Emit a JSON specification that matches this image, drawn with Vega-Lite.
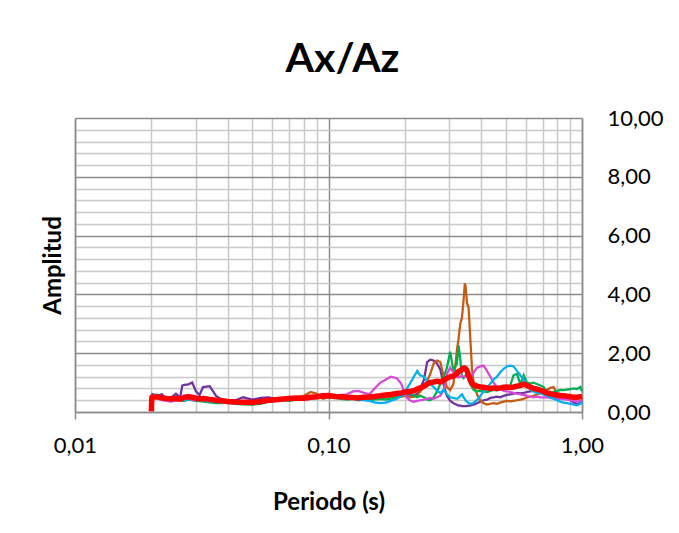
{
  "$schema": "https://vega.github.io/schema/vega-lite/v6.json",
  "width": 507,
  "height": 294,
  "autosize": {"type": "none"},
  "padding": {"left": 75, "top": 118, "right": 97, "bottom": 121},
  "background": "white",
  "config": {"view": {"stroke": null}, "font": "Lato"},
  "title": {"text": "Ax/Az", "fontSize": 41, "fontWeight": "bold", "font": "Lato", "color": "black", "anchor": "middle", "frame": "group", "dx": 14, "dy": 52, "baseline": "alphabetic", "offset": 46},
  "data": {"values": [
    {"p":0.020,"S1":0.62,"S2":0.50,"S3":0.58,"S4":0.45,"S5":0.55,"R":0.02},
    {"p":0.0201,"S1":0.62,"S2":0.50,"S3":0.58,"S4":0.45,"S5":0.55,"R":0.50},
    {"p":0.021,"S1":0.55,"S2":0.52,"S3":0.50,"S4":0.48,"S5":0.60,"R":0.52},
    {"p":0.022,"S1":0.60,"S2":0.45,"S3":0.47,"S4":0.40,"S5":0.50,"R":0.48},
    {"p":0.023,"S1":0.45,"S2":0.42,"S3":0.50,"S4":0.38,"S5":0.46,"R":0.46},
    {"p":0.024,"S1":0.50,"S2":0.48,"S3":0.45,"S4":0.35,"S5":0.45,"R":0.45},
    {"p":0.025,"S1":0.62,"S2":0.44,"S3":0.46,"S4":0.40,"S5":0.42,"R":0.46},
    {"p":0.026,"S1":0.50,"S2":0.42,"S3":0.40,"S4":0.38,"S5":0.44,"R":0.44},
    {"p":0.0265,"S1":0.90,"S2":0.44,"S3":0.38,"S4":0.40,"S5":0.42,"R":0.47},
    {"p":0.027,"S1":0.92,"S2":0.45,"S3":0.38,"S4":0.42,"S5":0.40,"R":0.50},
    {"p":0.028,"S1":0.94,"S2":0.48,"S3":0.42,"S4":0.45,"S5":0.43,"R":0.52},
    {"p":0.029,"S1":1.00,"S2":0.45,"S3":0.40,"S4":0.40,"S5":0.45,"R":0.50},
    {"p":0.030,"S1":0.70,"S2":0.42,"S3":0.38,"S4":0.40,"S5":0.42,"R":0.47},
    {"p":0.031,"S1":0.58,"S2":0.40,"S3":0.37,"S4":0.42,"S5":0.40,"R":0.45},
    {"p":0.032,"S1":0.85,"S2":0.42,"S3":0.35,"S4":0.40,"S5":0.38,"R":0.46},
    {"p":0.034,"S1":0.88,"S2":0.40,"S3":0.33,"S4":0.38,"S5":0.36,"R":0.43},
    {"p":0.036,"S1":0.55,"S2":0.38,"S3":0.30,"S4":0.36,"S5":0.35,"R":0.40},
    {"p":0.038,"S1":0.42,"S2":0.38,"S3":0.30,"S4":0.34,"S5":0.33,"R":0.38},
    {"p":0.040,"S1":0.38,"S2":0.35,"S3":0.32,"S4":0.30,"S5":0.32,"R":0.36},
    {"p":0.043,"S1":0.40,"S2":0.33,"S3":0.28,"S4":0.30,"S5":0.30,"R":0.34},
    {"p":0.046,"S1":0.50,"S2":0.35,"S3":0.26,"S4":0.33,"S5":0.28,"R":0.33},
    {"p":0.050,"S1":0.42,"S2":0.32,"S3":0.25,"S4":0.28,"S5":0.30,"R":0.32},
    {"p":0.054,"S1":0.48,"S2":0.35,"S3":0.28,"S4":0.32,"S5":0.33,"R":0.36},
    {"p":0.058,"S1":0.50,"S2":0.38,"S3":0.35,"S4":0.35,"S5":0.36,"R":0.40},
    {"p":0.062,"S1":0.45,"S2":0.40,"S3":0.38,"S4":0.40,"S5":0.38,"R":0.42},
    {"p":0.066,"S1":0.42,"S2":0.42,"S3":0.40,"S4":0.45,"S5":0.40,"R":0.44},
    {"p":0.070,"S1":0.45,"S2":0.45,"S3":0.38,"S4":0.48,"S5":0.42,"R":0.46},
    {"p":0.075,"S1":0.48,"S2":0.50,"S3":0.42,"S4":0.45,"S5":0.45,"R":0.48},
    {"p":0.080,"S1":0.50,"S2":0.55,"S3":0.45,"S4":0.50,"S5":0.42,"R":0.47},
    {"p":0.085,"S1":0.48,"S2":0.68,"S3":0.48,"S4":0.52,"S5":0.45,"R":0.50},
    {"p":0.090,"S1":0.50,"S2":0.62,"S3":0.50,"S4":0.50,"S5":0.48,"R":0.52},
    {"p":0.095,"S1":0.52,"S2":0.45,"S3":0.55,"S4":0.55,"S5":0.60,"R":0.55},
    {"p":0.100,"S1":0.50,"S2":0.50,"S3":0.52,"S4":0.60,"S5":0.58,"R":0.56},
    {"p":0.106,"S1":0.52,"S2":0.50,"S3":0.48,"S4":0.55,"S5":0.50,"R":0.53},
    {"p":0.112,"S1":0.55,"S2":0.48,"S3":0.45,"S4":0.58,"S5":0.52,"R":0.52},
    {"p":0.118,"S1":0.50,"S2":0.45,"S3":0.42,"S4":0.60,"S5":0.48,"R":0.50},
    {"p":0.125,"S1":0.48,"S2":0.46,"S3":0.45,"S4":0.70,"S5":0.45,"R":0.49},
    {"p":0.131,"S1":0.52,"S2":0.42,"S3":0.40,"S4":0.72,"S5":0.42,"R":0.48},
    {"p":0.138,"S1":0.50,"S2":0.45,"S3":0.42,"S4":0.65,"S5":0.40,"R":0.50},
    {"p":0.145,"S1":0.48,"S2":0.44,"S3":0.40,"S4":0.60,"S5":0.38,"R":0.51},
    {"p":0.152,"S1":0.50,"S2":0.46,"S3":0.43,"S4":0.80,"S5":0.33,"R":0.53},
    {"p":0.160,"S1":0.52,"S2":0.48,"S3":0.45,"S4":1.00,"S5":0.30,"R":0.55},
    {"p":0.168,"S1":0.50,"S2":0.50,"S3":0.42,"S4":1.10,"S5":0.32,"R":0.58},
    {"p":0.176,"S1":0.55,"S2":0.52,"S3":0.45,"S4":1.20,"S5":0.38,"R":0.60},
    {"p":0.186,"S1":0.52,"S2":0.50,"S3":0.50,"S4":1.15,"S5":0.45,"R":0.63},
    {"p":0.194,"S1":0.55,"S2":0.52,"S3":0.55,"S4":0.95,"S5":0.55,"R":0.65},
    {"p":0.201,"S1":0.58,"S2":0.55,"S3":0.60,"S4":0.55,"S5":0.72,"R":0.68},
    {"p":0.209,"S1":0.60,"S2":0.50,"S3":0.65,"S4":0.40,"S5":0.95,"R":0.70},
    {"p":0.217,"S1":0.55,"S2":0.52,"S3":0.55,"S4":0.35,"S5":1.20,"R":0.72},
    {"p":0.224,"S1":0.62,"S2":0.55,"S3":0.50,"S4":0.38,"S5":1.40,"R":0.78},
    {"p":0.230,"S1":0.80,"S2":0.70,"S3":0.55,"S4":0.40,"S5":1.25,"R":0.82},
    {"p":0.238,"S1":1.10,"S2":0.85,"S3":0.50,"S4":0.42,"S5":1.20,"R":0.88},
    {"p":0.245,"S1":1.70,"S2":1.05,"S3":0.42,"S4":0.45,"S5":1.05,"R":0.95},
    {"p":0.252,"S1":1.78,"S2":1.30,"S3":0.40,"S4":0.48,"S5":0.95,"R":1.00},
    {"p":0.260,"S1":1.75,"S2":1.65,"S3":0.50,"S4":0.45,"S5":0.85,"R":1.02},
    {"p":0.268,"S1":1.65,"S2":1.75,"S3":0.70,"S4":0.50,"S5":0.72,"R":1.05},
    {"p":0.276,"S1":1.45,"S2":1.70,"S3":0.95,"S4":0.55,"S5":0.65,"R":1.02},
    {"p":0.285,"S1":0.90,"S2":1.20,"S3":1.20,"S4":0.75,"S5":0.75,"R":1.08},
    {"p":0.293,"S1":0.55,"S2":0.85,"S3":1.50,"S4":1.30,"S5":0.60,"R":1.15},
    {"p":0.302,"S1":0.38,"S2":0.75,"S3":2.05,"S4":1.50,"S5":0.50,"R":1.20},
    {"p":0.311,"S1":0.30,"S2":0.95,"S3":1.40,"S4":1.35,"S5":0.48,"R":1.22},
    {"p":0.321,"S1":0.25,"S2":2.10,"S3":1.65,"S4":1.20,"S5":0.45,"R":1.30},
    {"p":0.326,"S1":0.22,"S2":2.50,"S3":2.27,"S4":1.18,"S5":0.48,"R":1.38},
    {"p":0.331,"S1":0.22,"S2":3.00,"S3":1.80,"S4":1.20,"S5":0.55,"R":1.40},
    {"p":0.336,"S1":0.20,"S2":3.20,"S3":1.20,"S4":1.25,"S5":0.60,"R":1.45},
    {"p":0.341,"S1":0.20,"S2":3.80,"S3":1.15,"S4":1.20,"S5":0.50,"R":1.50},
    {"p":0.345,"S1":0.20,"S2":4.38,"S3":1.20,"S4":1.20,"S5":0.45,"R":1.50},
    {"p":0.347,"S1":0.20,"S2":4.30,"S3":1.25,"S4":1.20,"S5":0.40,"R":1.48},
    {"p":0.352,"S1":0.20,"S2":3.70,"S3":1.30,"S4":1.25,"S5":0.35,"R":1.40},
    {"p":0.357,"S1":0.22,"S2":3.55,"S3":1.10,"S4":1.22,"S5":0.30,"R":1.25},
    {"p":0.362,"S1":0.22,"S2":2.60,"S3":0.95,"S4":1.20,"S5":0.29,"R":1.10},
    {"p":0.368,"S1":0.24,"S2":1.50,"S3":0.85,"S4":1.25,"S5":0.28,"R":0.98},
    {"p":0.374,"S1":0.25,"S2":0.95,"S3":0.75,"S4":1.35,"S5":0.32,"R":0.92},
    {"p":0.385,"S1":0.30,"S2":0.60,"S3":0.70,"S4":1.50,"S5":0.40,"R":0.88},
    {"p":0.397,"S1":0.35,"S2":0.40,"S3":0.72,"S4":1.55,"S5":0.55,"R":0.85},
    {"p":0.409,"S1":0.40,"S2":0.30,"S3":0.70,"S4":1.58,"S5":0.70,"R":0.84},
    {"p":0.422,"S1":0.42,"S2":0.25,"S3":0.68,"S4":1.40,"S5":0.80,"R":0.82},
    {"p":0.435,"S1":0.48,"S2":0.28,"S3":0.72,"S4":1.20,"S5":0.97,"R":0.80},
    {"p":0.448,"S1":0.50,"S2":0.30,"S3":0.75,"S4":1.00,"S5":1.10,"R":0.82},
    {"p":0.462,"S1":0.52,"S2":0.28,"S3":0.74,"S4":0.85,"S5":1.20,"R":0.80},
    {"p":0.476,"S1":0.50,"S2":0.32,"S3":0.80,"S4":0.78,"S5":1.35,"R":0.82},
    {"p":0.491,"S1":0.55,"S2":0.35,"S3":0.85,"S4":0.72,"S5":1.47,"R":0.84},
    {"p":0.506,"S1":0.58,"S2":0.38,"S3":0.80,"S4":0.70,"S5":1.55,"R":0.85},
    {"p":0.521,"S1":0.60,"S2":0.36,"S3":0.90,"S4":0.68,"S5":1.58,"R":0.83},
    {"p":0.537,"S1":0.62,"S2":0.38,"S3":1.25,"S4":0.65,"S5":1.55,"R":0.85},
    {"p":0.554,"S1":0.65,"S2":0.40,"S3":1.30,"S4":0.62,"S5":1.40,"R":0.88},
    {"p":0.571,"S1":0.63,"S2":0.42,"S3":0.95,"S4":0.60,"S5":1.25,"R":0.90},
    {"p":0.589,"S1":0.65,"S2":0.45,"S3":1.25,"S4":0.58,"S5":1.10,"R":0.95},
    {"p":0.607,"S1":0.68,"S2":0.50,"S3":1.00,"S4":0.55,"S5":0.95,"R":0.90},
    {"p":0.625,"S1":0.70,"S2":0.52,"S3":0.97,"S4":0.52,"S5":0.75,"R":0.85},
    {"p":0.644,"S1":0.72,"S2":0.55,"S3":1.00,"S4":0.50,"S5":0.70,"R":0.80},
    {"p":0.664,"S1":0.74,"S2":0.60,"S3":0.95,"S4":0.52,"S5":0.65,"R":0.78},
    {"p":0.685,"S1":0.68,"S2":0.65,"S3":0.90,"S4":0.50,"S5":0.63,"R":0.74},
    {"p":0.706,"S1":0.60,"S2":0.70,"S3":0.85,"S4":0.50,"S5":0.62,"R":0.70},
    {"p":0.728,"S1":0.55,"S2":0.75,"S3":0.65,"S4":0.50,"S5":0.55,"R":0.65},
    {"p":0.750,"S1":0.52,"S2":0.82,"S3":0.60,"S4":0.48,"S5":0.50,"R":0.62},
    {"p":0.773,"S1":0.50,"S2":0.85,"S3":0.68,"S4":0.46,"S5":0.45,"R":0.60},
    {"p":0.797,"S1":0.52,"S2":0.60,"S3":0.72,"S4":0.45,"S5":0.40,"R":0.58},
    {"p":0.821,"S1":0.50,"S2":0.52,"S3":0.74,"S4":0.45,"S5":0.35,"R":0.56},
    {"p":0.846,"S1":0.48,"S2":0.50,"S3":0.74,"S4":0.44,"S5":0.32,"R":0.55},
    {"p":0.872,"S1":0.45,"S2":0.52,"S3":0.76,"S4":0.42,"S5":0.30,"R":0.54},
    {"p":0.899,"S1":0.40,"S2":0.50,"S3":0.78,"S4":0.40,"S5":0.28,"R":0.52},
    {"p":0.927,"S1":0.32,"S2":0.48,"S3":0.80,"S4":0.38,"S5":0.25,"R":0.50},
    {"p":0.955,"S1":0.28,"S2":0.52,"S3":0.78,"S4":0.35,"S5":0.23,"R":0.50},
    {"p":0.985,"S1":0.30,"S2":0.50,"S3":0.85,"S4":0.38,"S5":0.28,"R":0.52},
    {"p":1.000,"S1":0.35,"S2":0.48,"S3":0.70,"S4":0.40,"S5":0.35,"R":0.53}
  ]},
  "encoding": {
    "x": {
      "field": "p", "type": "quantitative",
      "scale": {"type": "log", "domain": [0.01, 1], "nice": false},
      "axis": {
        "values": [0.01,0.02,0.03,0.04,0.05,0.06,0.07,0.08,0.09,0.1,0.2,0.3,0.4,0.5,0.6,0.7,0.8,0.9,1],
        "title": "Periodo (s)", "titleFont": "Lato", "titleFontSize": 24, "titleFontWeight": "bold", "titleColor": "black",
        "titleBaseline": "alphabetic", "titleY": 97,
        "labelExpr": "abs(log(datum.value)/LN10 - round(log(datum.value)/LN10)) < 0.001 ? replace(format(datum.value, '.2f'), '.', ',') : ''",
        "labelFont": "Lato", "labelFontSize": 22, "labelColor": "black", "labelPadding": 16,
        "labelFlush": false, "labelOverlap": false, "labelBound": false,
        "tickSize": 7, "tickColor": "#8c8c8c", "tickWidth": 1.5,
        "tickOpacity": {"condition": {"test": "abs(log(datum.value)/LN10 - round(log(datum.value)/LN10)) < 0.001", "value": 1}, "value": 0},
        "grid": true,
        "gridColor": {"condition": {"test": "abs(log(datum.value)/LN10 - round(log(datum.value)/LN10)) < 0.001", "value": "#8c8c8c"}, "value": "#c8c8c8"},
        "gridWidth": 1.5,
        "domainColor": "#8c8c8c", "domainWidth": 1.5
      }
    }
  },
  "layer": [
    {
      "transform": [{"fold": ["S1", "S2", "S3", "S4", "S5"], "as": ["serie", "amp"]}],
      "mark": {"type": "line", "strokeWidth": 2.25, "invalid": "filter"},
      "encoding": {
        "y": {
          "field": "amp", "type": "quantitative",
          "scale": {"domain": [0, 10], "nice": false},
          "axis": {
            "orient": "right", "title": null,
            "values": [0,0.4,0.8,1.2,1.6,2,2.4,2.8,3.2,3.6,4,4.4,4.8,5.2,5.6,6,6.4,6.8,7.2,7.6,8,8.4,8.8,9.2,9.6,10],
            "labelExpr": "datum.value % 2 == 0 ? replace(format(datum.value, '.2f'), '.', ',') : ''",
            "labelFont": "Lato", "labelFontSize": 22, "labelColor": "black", "labelPadding": 25,
            "labelOverlap": false, "labelBound": false, "labelFlush": false,
            "ticks": false,
            "grid": true,
            "gridColor": {"condition": {"test": "datum.value % 2 == 0", "value": "#8c8c8c"}, "value": "#c8c8c8"},
            "gridWidth": 1.5,
            "domainColor": "#8c8c8c", "domainWidth": 1.5
          }
        },
        "color": {
          "field": "serie", "type": "nominal",
          "scale": {"domain": ["S1", "S2", "S3", "S4", "S5"], "range": ["#7030A0", "#C55A11", "#00B050", "#D64AD6", "#00B0F0"]},
          "legend": null
        }
      }
    },
    {
      "mark": {"type": "line", "strokeWidth": 5.5, "color": "#FF0000", "strokeJoin": "round", "strokeCap": "butt"},
      "encoding": {
        "y": {
          "field": "R", "type": "quantitative",
          "scale": {"domain": [0, 10], "nice": false},
          "axis": {
            "orient": "left", "title": "Amplitud",
            "titleFont": "Lato", "titleFontSize": 24, "titleFontWeight": "bold", "titleColor": "black",
            "titleBaseline": "alphabetic", "titleAngle": 270, "titleAlign": "center", "titleX": -15, "titleY": 147,
            "labels": false, "ticks": false, "grid": false,
            "domainColor": "#8c8c8c", "domainWidth": 1.5
          }
        }
      }
    }
  ],
  "resolve": {"scale": {"y": "independent"}, "axis": {"y": "independent"}}
}
